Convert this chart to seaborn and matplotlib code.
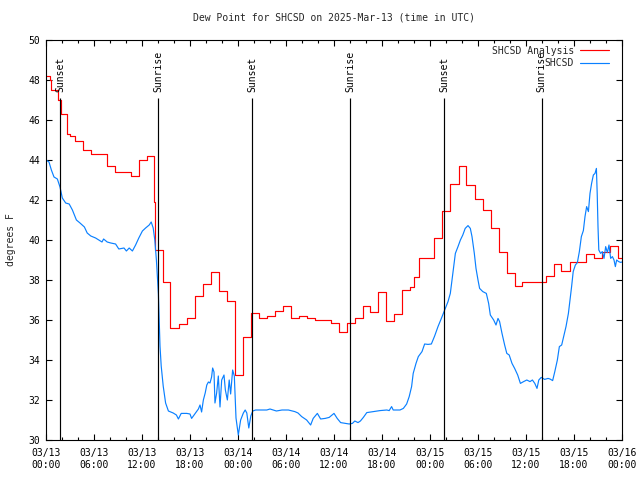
import pandas as pd
import matplotlib
matplotlib.use('Agg')
import matplotlib.pyplot as plt
import matplotlib.dates as mdates
import seaborn as sns


# hours after 2025-03-13 00:00 UTC, dew point in degrees F
# analysis series is a step trace (value holds until the next time)
analysis_hours = [0, 0.5, 0.67, 1.5, 1.83, 2.6, 3.0, 3.6, 4.6, 5.65,
                  7.6, 8.6, 10.65, 11.65, 12.6, 13.5, 13.6, 14.6, 15.5, 16.6,
                  17.6, 18.6, 19.65, 20.6, 21.6, 22.6, 23.6, 24.6, 25.6, 26.6,
                  27.6, 28.6, 29.65, 30.65, 31.65, 32.65, 33.65, 35.65, 36.65, 37.6,
                  38.6, 39.6, 40.5, 41.5, 42.5, 43.5, 44.5, 45.5, 46.0, 46.6,
                  48.5, 49.5, 50.5, 51.6, 52.5, 53.6, 54.6, 55.65, 56.65, 57.65,
                  58.65, 59.5, 62.5, 63.5, 64.4, 65.5, 67.5, 68.5, 69.5, 70.5,
                  71.5, 72.0]
analysis_vals = [48.2, 48.0, 47.5, 47.0, 46.3, 45.3, 45.2, 44.95, 44.5, 44.3,
                 43.7, 43.4, 43.2, 44.0, 44.2, 41.9, 39.5, 37.9, 35.6, 35.8,
                 36.1, 37.2, 37.8, 38.4, 37.45, 36.95, 33.25, 35.15, 36.35, 36.1,
                 36.2, 36.45, 36.7, 36.1, 36.2, 36.1, 36.0, 35.85, 35.4, 35.85,
                 36.1, 36.7, 36.4, 37.4, 35.95, 36.3, 37.5, 37.65, 38.15, 39.1,
                 40.1, 41.45, 42.8, 43.7, 42.75, 42.05, 41.5, 40.6, 39.4, 38.35,
                 37.7, 37.9, 38.2, 38.8, 38.45, 38.9, 39.3, 39.1, 39.4, 39.7,
                 39.1, 39.1]

station_hours = [0.0, 0.375, 0.67, 1.0, 1.42, 1.75, 2.04, 2.46, 2.9, 3.3,
                 3.8, 4.25, 4.8, 5.15, 5.6, 6.2, 6.6, 7.0, 7.2, 7.65,
                 8.1, 8.7, 9.1, 9.75, 10.05, 10.4, 10.8, 11.2, 11.6, 12.05,
                 12.45, 12.9, 13.15, 13.4, 13.6, 13.8, 13.9, 14.05, 14.15, 14.25,
                 14.4, 14.65, 14.95, 15.3, 15.9, 16.3, 16.55, 16.9, 17.6, 18.0,
                 18.2, 18.6, 19.05, 19.25, 19.45, 19.67, 19.9, 20.1, 20.3, 20.5,
                 20.7, 20.83, 21.0, 21.12, 21.33, 21.54, 21.75, 21.96, 22.25, 22.42,
                 22.67, 22.9, 23.08, 23.33, 23.54, 23.75, 24.04, 24.33, 24.67, 24.9,
                 25.1, 25.35, 25.6, 25.85, 26.2, 27.0, 27.6, 28.0, 28.8, 29.5,
                 30.3, 31.1, 31.5, 31.96, 32.58, 33.08, 33.4, 33.92, 34.33, 34.9,
                 35.4, 36.0, 36.4, 36.83, 37.4, 37.9, 38.3, 38.6, 39.0, 39.3,
                 39.67, 40.1, 40.9, 41.75, 42.6, 42.9, 43.2, 43.4, 44.25, 44.67,
                 45.08, 45.4, 45.7, 45.9, 46.25, 46.54, 47.0, 47.33, 47.75, 48.17,
                 48.58, 49.0, 49.42, 49.83, 50.25, 50.54, 50.75, 50.96, 51.17, 51.5,
                 51.8, 52.1, 52.4, 52.75, 53.04, 53.25, 53.54, 53.75, 54.0, 54.2,
                 54.6, 55.04, 55.33, 55.54, 55.96, 56.25, 56.5, 56.7, 57.0, 57.33,
                 57.6, 57.9, 58.25, 58.58, 58.96, 59.3, 59.7, 60.1, 60.5, 60.8,
                 61.1, 61.375, 61.6, 61.9, 62.33, 62.75, 63.0, 63.33, 63.6, 63.92,
                 64.17, 64.46, 64.75, 65.0, 65.3, 65.5, 65.7, 65.9, 66.17, 66.42,
                 66.67, 66.92, 67.17, 67.375, 67.58, 67.8, 68.0, 68.2, 68.42, 68.625,
                 68.8, 68.9, 69.0, 69.1, 69.33, 69.54, 69.75, 69.96, 70.17, 70.375,
                 70.58, 70.8, 71.0, 71.17, 71.33, 71.58, 71.83, 72.0]
station_vals = [44.0, 43.9, 43.5, 43.15, 43.05, 42.65, 42.1, 41.85, 41.8, 41.5,
                41.0, 40.85, 40.65, 40.35, 40.2, 40.1, 40.0, 39.9, 40.05, 39.9,
                39.85, 39.8, 39.55, 39.6, 39.45, 39.6, 39.45, 39.75, 40.1, 40.45,
                40.6, 40.75, 40.9, 40.6, 40.0, 39.0, 38.3, 37.3, 36.0, 34.7,
                33.7, 32.7, 31.85, 31.45, 31.35, 31.25, 31.05, 31.33, 31.33, 31.3,
                31.08, 31.3, 31.55, 31.75, 31.4, 32.0, 32.35, 32.75, 32.9, 32.85,
                33.15, 33.6, 33.4, 31.85, 32.35, 33.2, 31.65, 33.0, 33.25, 32.5,
                32.0, 33.0, 32.3, 33.5, 33.2, 31.1, 30.25, 31.0, 31.35, 31.5,
                31.35, 30.6, 31.2, 31.45, 31.5, 31.5, 31.5, 31.55, 31.45, 31.5,
                31.5, 31.42, 31.35, 31.17, 31.0, 30.75, 31.08, 31.33, 31.05, 31.08,
                31.13, 31.33, 31.08, 30.87, 30.83, 30.8, 30.83, 30.95, 30.87, 30.95,
                31.13, 31.37, 31.42, 31.47, 31.5, 31.47, 31.67, 31.5, 31.5, 31.58,
                31.8, 32.17, 32.67, 33.33, 33.83, 34.17, 34.42, 34.8, 34.78, 34.8,
                35.2, 35.67, 36.08, 36.5, 36.92, 37.33, 38.0, 38.67, 39.33, 39.67,
                40.0, 40.25, 40.58, 40.72, 40.58, 40.17, 39.33, 38.58, 38.0, 37.58,
                37.42, 37.33, 36.83, 36.25, 36.0, 35.75, 36.08, 35.92, 35.33, 34.75,
                34.33, 34.25, 33.83, 33.58, 33.25, 32.83, 32.92, 33.0, 32.92, 33.0,
                32.83, 32.58, 33.0, 33.13, 33.03, 33.08, 33.05, 32.97, 33.42, 34.0,
                34.67, 34.75, 35.25, 35.67, 36.33, 37.0, 37.67, 38.42, 38.75, 38.87,
                39.42, 40.17, 40.47, 41.17, 41.67, 41.42, 42.33, 42.83, 43.25, 43.33,
                43.58, 42.33, 40.67, 39.5, 39.33, 39.42, 39.08, 39.67, 39.37, 39.75,
                39.08, 39.17, 39.0, 38.67, 39.0, 38.92, 38.88, 38.9]

sunset_hours = [1.8, 25.8, 49.75]
sunrise_hours = [14.05, 38.05, 61.95]

start = pd.Timestamp('2025-03-13 00:00')
df_analysis = pd.DataFrame({'time': start + pd.to_timedelta(analysis_hours, unit='h'),
                            'dewpt': analysis_vals})
df_station = pd.DataFrame({'time': start + pd.to_timedelta(station_hours, unit='h'),
                           'dewpt': station_vals})

sns.set_theme(style='ticks')
plt.rcParams['font.family'] = ['DejaVu Sans Mono', 'DejaVu Sans']
plt.rcParams.update({
    'xtick.direction': 'in', 'ytick.direction': 'in',
    'xtick.top': True, 'ytick.right': True,
    'xtick.major.size': 4, 'xtick.minor.size': 2.2,
    'ytick.major.size': 4, 'axes.linewidth': 0.8,
    'xtick.major.width': 0.8, 'xtick.minor.width': 0.8, 'ytick.major.width': 0.8,
    'axes.edgecolor': 'black', 'xtick.color': 'black', 'ytick.color': 'black',
})

fig = plt.figure(figsize=(6.4, 4.8), dpi=100)
ax = fig.add_axes([46 / 640, 40 / 480, 576 / 640, 400 / 480])

sns.lineplot(data=df_analysis, x='time', y='dewpt', color='#ff0000', lw=0.85,
             drawstyle='steps-post', estimator=None, label='SHCSD Analysis', ax=ax)
sns.lineplot(data=df_station, x='time', y='dewpt', color='#0a80ff', lw=0.85,
             estimator=None, label='SHCSD', ax=ax)

#sunrise / sunset markers
for label, hours in [('Sunset', sunset_hours), ('Sunrise', sunrise_hours)]:
    for h in hours:
        t = start + pd.Timedelta(hours=h)
        ax.vlines(t, 30, 47.1, color='black', lw=0.85)
        ax.text(t, 47.4, label, rotation=90, ha='center', va='bottom',
                fontsize=7, color='black')

ax.set_xlim(start, start + pd.Timedelta(hours=72))
ax.set_ylim(30, 50)
ax.set_yticks(range(30, 51, 2))
ax.xaxis.set_major_locator(mdates.HourLocator(byhour=[0, 6, 12, 18]))
ax.xaxis.set_minor_locator(mdates.HourLocator(interval=2))
ax.xaxis.set_major_formatter(mdates.DateFormatter('%m/%d\n%H:%M'))
ax.tick_params(axis='both', labelsize=7)
ax.tick_params(axis='x', pad=6)
ax.tick_params(axis='y', pad=4)

ax.set_xlabel('')
ax.set_ylabel('degrees F', fontsize=7, labelpad=9)
ax.set_title('Dew Point for SHCSD on 2025-Mar-13 (time in UTC)', fontsize=7, pad=14)

ax.legend(loc='upper right', bbox_to_anchor=(1 - 7 / 576, 1.0), frameon=False,
          markerfirst=False, fontsize=7, handlelength=3.0, borderaxespad=0.2,
          labelspacing=0.25, handletextpad=0.6)

fig.savefig('out.png', dpi=100)
